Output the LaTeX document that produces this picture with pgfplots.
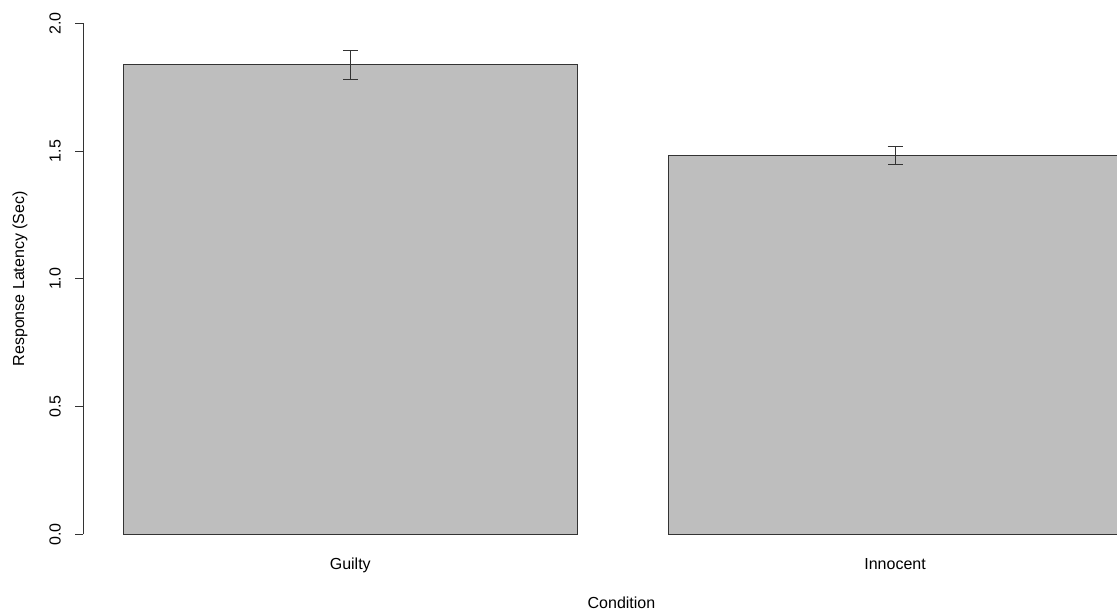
\documentclass[border=0pt]{standalone}
\usepackage{fontspec}
\setmainfont{Liberation Sans}
\usepackage{pgfplots}
\pgfplotsset{compat=1.18}
\definecolor{bargray}{HTML}{BEBEBE}
\definecolor{linec}{HTML}{333333}
\begin{document}
\begin{tikzpicture}[font=\fontsize{12pt}{14pt}\selectfont]
\useasboundingbox (0,0) rectangle (837.75pt,458.25pt);
\begin{axis}[
  at={(62.5pt,57.5pt)}, anchor=south west,
  scale only axis, width=775.3pt, height=383.25pt,
  xmin=0.112, xmax=2.389, ymin=0, ymax=2,
  axis lines*=left,
  x axis line style={draw=none},
  y axis line style={line width=0.75pt, color=linec},
  xtick={0.7,1.9}, xticklabels={Guilty,Innocent},
  x tick style={draw=none},
  ytick={0,0.5,1,1.5,2},
  yticklabels={0.0,0.5,1.0,1.5,2.0},
  y tick style={line width=0.75pt, color=linec},
  tick align=outside, major tick length=6pt,
  xticklabel style={anchor=base, inner sep=0pt, yshift=-20.4pt},
  yticklabel style={xshift=-11pt, rotate=90, anchor=base, inner sep=0pt},
  /pgf/number format/assume math mode=true,
  ybar, bar width=1,
]
\addplot[fill=bargray, draw=linec, line width=0.75pt,
  error bars/.cd, y dir=both, y explicit,
  error bar style={line width=0.75pt, color=linec},
  error mark options={rotate=90, line width=0.75pt, color=linec, mark size=5.6pt}]
  coordinates {(0.7,1.838) +- (0,0.057) (1.9,1.484) +- (0,0.035)};
\end{axis}
\node[rotate=90, anchor=base] at (18pt,249.2pt) {Response Latency (Sec)};
\node[anchor=base] at (466.1pt,2.25pt) {Condition};
\end{tikzpicture}
\end{document}
